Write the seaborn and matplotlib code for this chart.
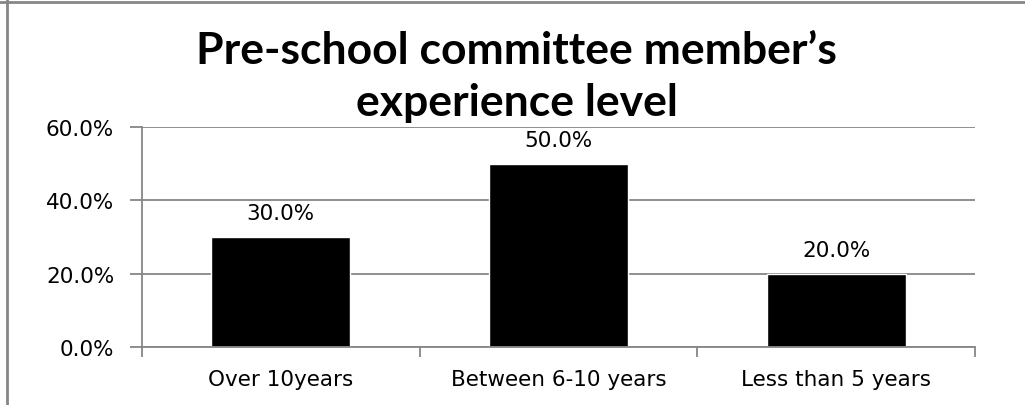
import matplotlib
matplotlib.use("Agg")
import matplotlib.pyplot as plt
import pandas as pd
import seaborn as sns
from matplotlib.lines import Line2D
from matplotlib.ticker import FuncFormatter, FixedLocator

categories = ["Over 10years", "Between 6-10 years", "Less than 5 years"]
percentages = [30.0, 50.0, 20.0]
y_ticks = [0, 20, 40, 60]
title_lines = ["Pre-school committee member\u2019s", "experience level"]

df = pd.DataFrame({"Experience": categories, "Percent": percentages})

sns.set_theme(style="white")
plt.rcParams["font.family"] = ["DejaVu Sans"]
plt.rcParams["text.color"] = "black"

GRID = "#868686"
TXT = 15.5

fig = plt.figure(figsize=(10.25, 4.06), dpi=100)
ax = fig.add_axes([142 / 1025, 1 - 348 / 406, (975 - 142) / 1025, (348 - 128) / 406])

sns.barplot(data=df, x="Experience", y="Percent", color="black", width=0.5,
            saturation=1, ax=ax)

ax.set_ylim(0, 60)
ax.set_xlim(-0.5, 2.5)
ax.yaxis.set_major_locator(FixedLocator(y_ticks))
ax.yaxis.set_major_formatter(FuncFormatter(lambda v, p: f"{v:.1f}%"))
ax.yaxis.grid(True, color=GRID, linewidth=1.3)
ax.set_axisbelow(True)
ax.set_xlabel("")
ax.set_ylabel("")

for side in ["top", "right"]:
    ax.spines[side].set_visible(False)
for side in ["left", "bottom"]:
    ax.spines[side].set_color(GRID)
    ax.spines[side].set_linewidth(1.3)

ax.tick_params(axis="y", length=9, width=1.3, color=GRID, pad=11,
               labelsize=TXT, labelcolor="black", left=True)
ax.tick_params(axis="x", which="major", length=0, pad=16,
               labelsize=TXT, labelcolor="black")
ax.set_xticks([-0.5, 0.5, 1.5, 2.5], minor=True)
ax.tick_params(axis="x", which="minor", length=7, width=1.3, color=GRID, bottom=True)

for c in ax.containers:
    ax.bar_label(c, labels=[f"{v:.1f}%" for v in percentages], padding=10,
                 fontsize=TXT, color="black")

# two-line bold title, placed by baseline
for line, base in zip(title_lines, [64, 116]):
    fig.text(0.504, 1 - base / 406, line, ha="center", va="baseline",
             fontsize=32, fontweight="bold", color="black",
             family=["Lato", "DejaVu Sans"])

# outer frame: top and left edges
fig.add_artist(Line2D([0, 1], [1 - 3 / 406] * 2, color=GRID, linewidth=2,
                      transform=fig.transFigure))
fig.add_artist(Line2D([7 / 1025] * 2, [0, 1], color=GRID, linewidth=2,
                      transform=fig.transFigure))

fig.savefig("out.png", dpi=100)
